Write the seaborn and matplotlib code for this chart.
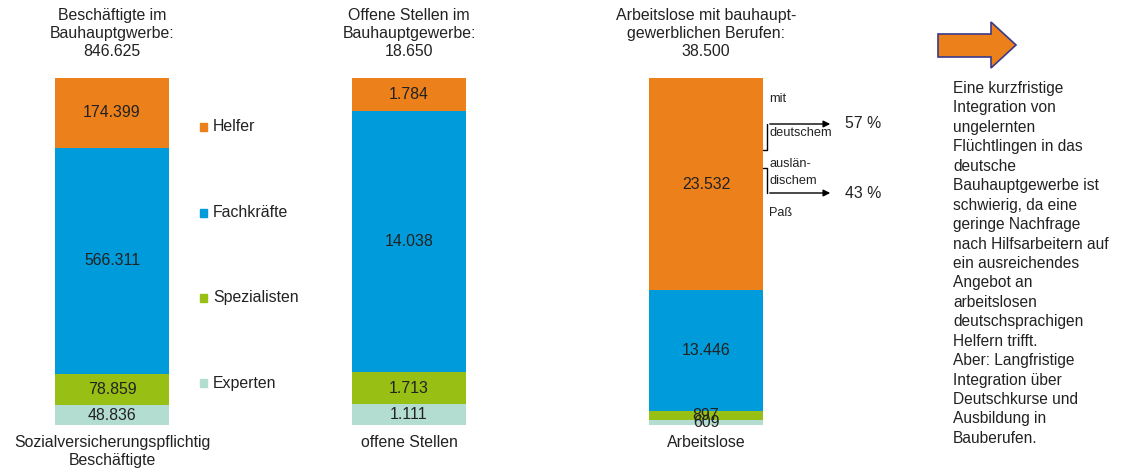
import numpy as np
import pandas as pd
import matplotlib.pyplot as plt
import matplotlib.patches as mpatches
import seaborn as sns

# ─── Data ─────────────────────────────────────────────────────────────────────

bars = ["Beschäftigte", "Offene Stellen", "Arbeitslose"]
titles = [
    "Beschäftigte im\nBauhauptgwerbe:\n846.625",
    "Offene Stellen im\nBauhauptgewerbe:\n18.650",
    "Arbeitslose mit bauhaupt-\ngewerblichen Berufen:\n38.500",
]
bottom_labels = ["Sozialversicherungspflichtig\nBeschäftigte", "offene Stellen", "Arbeitslose"]
levels = ["Helfer", "Fachkräfte", "Spezialisten", "Experten"]   # top -> bottom
helfer = [174399, 1784, 23532]
fachkraefte = [566311, 14038, 13446]
spezialisten = [78859, 1713, 897]
experten = [48836, 1111, 609]
colors = ["#EC801B", "#009BDA", "#97BF14", "#B4DDD1"]
note = ("Eine kurzfristige\nIntegration von\nungelernten\nFlüchtlingen in das\ndeutsche\n"
        "Bauhauptgewerbe ist\nschwierig, da eine\ngeringe Nachfrage\nnach Hilfsarbeitern auf\n"
        "ein ausreichendes\nAngebot an\narbeitslosen\ndeutschsprachigen\nHelfern trifft.\n"
        "Aber: Langfristige\nIntegration über\nDeutschkurse und\nAusbildung in\nBauberufen.")

# ─── Prepare ──────────────────────────────────────────────────────────────────

vals = pd.DataFrame(
    {"Helfer": helfer, "Fachkräfte": fachkraefte,
     "Spezialisten": spezialisten, "Experten": experten},
    index=bars,
)
share = vals.div(vals.sum(axis=1), axis=0) * 100
# cumulative from the bottom (Experten first)
cum = share[levels[::-1]].cumsum(axis=1)

sns.set_theme(style="white")
plt.rcParams["font.family"] = ["Liberation Sans", "DejaVu Sans"]
FS = 11.4
TXT = "#222222"

W, H = 1124, 472
fig = plt.figure(figsize=(W / 100, H / 100), dpi=100)

# axes spans full width; bar centres at 112, 409, 706 px
step = 297
ax = fig.add_axes([0, 1 - 425 / H, 1, (425 - 78) / H])

for lvl, col in zip(levels, colors):
    d = pd.DataFrame({"bar": bars, "cum": cum[lvl].values})
    sns.barplot(data=d, x="bar", y="cum", order=bars, color=col,
                saturation=1, width=114 / step, linewidth=0, ax=ax)

ax.set_xlim(-112 / step, (W - 112) / step)
ax.set_ylim(0, 100)
ax.axis("off")

# value labels in the segment centres
for i, b in enumerate(bars):
    for lvl in levels:
        top = cum.loc[b, lvl]
        mid = top - share.loc[b, lvl] / 2
        ax.text(i, mid, f"{vals.loc[b, lvl]:,}".replace(",", "."),
                ha="center", va="center", fontsize=FS, color=TXT)

# titles and bottom labels
for i, (t, bl) in enumerate(zip(titles, bottom_labels)):
    ax.text(i, 105.6, t, ha="center", va="bottom", fontsize=FS,
            color=TXT, linespacing=1.24, clip_on=False)
    ax.text(i, -2.8, bl, ha="center", va="top", fontsize=FS,
            color=TXT, linespacing=1.24, clip_on=False)

# legend beside first bar
leg_y = [85.9, 61.1, 36.6, 12.1]
for lvl, col, y in zip(levels, colors, leg_y):
    ax.add_patch(mpatches.Rectangle((0.297, y - 1.1), 0.024, 2.2, color=col,
                                    clip_on=False))
    ax.text(0.34, y, lvl, ha="left", va="center", fontsize=FS, color=TXT)


def px(x, y):
    return x / W, 1 - y / H


# passport brackets next to third bar
line_kw = dict(color="black", lw=1, transform=fig.transFigure)
for y0, y1 in [(150, 124), (168, 193)]:
    fig.add_artist(plt.Line2D(*zip(px(763, y0), px(767, y0), px(767, y1)), **line_kw))
    fig.add_artist(mpatches.FancyArrowPatch(px(767, y1), px(833, y1),
                                            arrowstyle="-|>", mutation_scale=10,
                                            lw=1, color="black",
                                            transform=fig.transFigure))
small = dict(fontsize=9.2, color=TXT, ha="left", va="center")
fig.text(*px(769, 99), "mit", **small)
fig.text(*px(769, 133), "deutschem", **small)
fig.text(*px(769, 164), "auslän-", **small)
fig.text(*px(769, 181), "dischem", **small)
fig.text(*px(769, 213), "Paß", **small)
fig.text(*px(845, 124), "57 %", fontsize=FS, color=TXT, va="center")
fig.text(*px(845, 193), "43 %", fontsize=FS, color=TXT, va="center")

# block arrow and explanatory note
arrow_pts = [px(938, 34), px(991, 34), px(991, 22), px(1016, 45),
             px(991, 68), px(991, 57), px(938, 57)]
fig.add_artist(mpatches.Polygon(arrow_pts, closed=True, facecolor="#EC801B",
                                edgecolor="#3A3A8C", lw=1.2,
                                transform=fig.transFigure))
fig.text(*px(953, 81), note, ha="left", va="top", fontsize=11.2,
         color=TXT, linespacing=1.37)

plt.savefig("out.png", dpi=100)
plt.close()
